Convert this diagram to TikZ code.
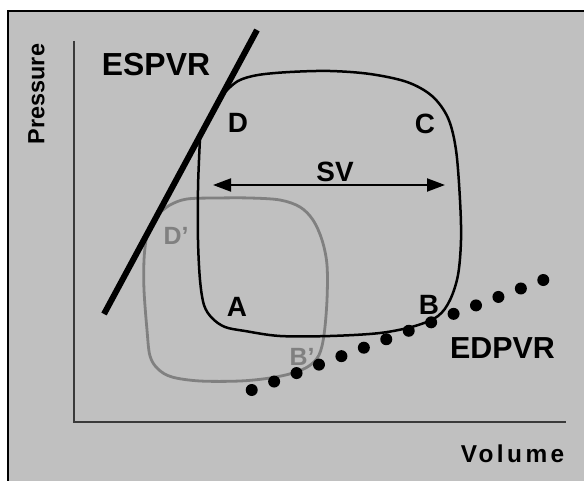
\documentclass[tikz,border=0pt]{standalone}
\usepackage{fontspec}
\setmainfont{Liberation Sans}
\usetikzlibrary{arrows.meta}
\definecolor{panel}{HTML}{C0C0C0}
\definecolor{shade}{HTML}{808080}
\definecolor{axisgray}{HTML}{3A3A3A}
\tikzset{
  lbl/.style={font=\bfseries\fontsize{28}{30}\selectfont, inner sep=0pt},
  lblgray/.style={lbl, text=shade, font=\bfseries\fontsize{25}{27}\selectfont},
  axislbl/.style={inner sep=0pt},
  loopline/.style={line width=2.5bp, line join=round},
  graylooop/.style={line width=2.8bp, draw=shade, line join=round},
  relation/.style={line width=6bp, line cap=butt},
  edpdot/.style={circle, fill=black, minimum size=12bp, inner sep=0pt},
  axisline/.style={draw=axisgray, line width=1.3bp},
}
\begin{document}
\begin{tikzpicture}[x=1bp, y=-1bp]
  \useasboundingbox (0,0) rectangle (584,481);
  % panel
  \fill[panel] (8,11) rectangle (584,481);
  \draw[line width=1.5bp] (8,481) -- (8,11) -- (584,11);

  % axes
  \coordinate (origin) at (74,422);
  \coordinate (ytop) at (74,41);
  \coordinate (xend) at (566,422);
  \draw[axisline] (ytop) -- (origin) -- (xend);

  % axis titles
  \node[axislbl, rotate=90, font=\bfseries\fontsize{23.5}{25}\selectfont] (pressure) at (36.5,94) {Pressure};
  \node[axislbl, font=\bfseries\fontsize{24.5}{26}\selectfont\addfontfeature{LetterSpace=14}] (volume) at (512.5,454) {Volume};

  % reduced loop (gray)
  \draw[graylooop] plot[smooth, tension=0.55] coordinates {
    (157,215) (170,205) (187,199) (217,198) (250,198) (280,200) (300,207)
    (313,220) (322,240) (327,265) (327,300) (324,335) (319,355) (309,366)
    (293,373) (270,378) (240,381) (200,381) (172,377) (158,369) (150,356)
    (147,330) (144,290) (144,260) (146,240) (148,232)};

  % pressure-volume loop (black)
  \draw[loopline] plot[smooth, tension=0.55] coordinates {
    (223,94) (238,81) (258,75) (290,72) (330,71) (370,74) (407,82)
    (432,96) (448,118) (456,150) (460,200) (461,240) (458,275) (450,300)
    (438,316) (415,326) (380,333) (330,336) (280,336) (245,331) (225,327)
    (212,318) (204,305) (200,280) (198,240) (198,190) (199,160) (200,138)};

  % end-diastolic relation (dots)
  \foreach \i in {0,...,13} {
    \node[edpdot] (dot\i) at ({251.7+22.43*\i},{390-8.46*\i}) {};
  }

  % end-systolic relation
  \coordinate (esA) at (104,314);
  \coordinate (esB) at (257,30);
  \draw[relation] (esA) -- (esB);

  % stroke volume arrow
  \coordinate (svL) at (213,185);
  \coordinate (svR) at (445,185);
  \draw[line width=2bp, {Triangle[length=18bp,width=13bp]}-{Triangle[length=18bp,width=13bp]}] (svL) -- (svR);

  % labels
  \node[lbl, font=\bfseries\fontsize{32}{34}\selectfont] (espvr) at (156,65) {ESPVR};
  \node[lbl, font=\bfseries\fontsize{30.5}{32}\selectfont] (edpvr) at (502.5,348) {EDPVR};
  \node[lbl] (D) at (238,123) {D};
  \node[lbl] (C) at (425,123.5) {C};
  \node[lbl] (SV) at (335,172) {SV};
  \node[lbl] (A) at (237,307) {A};
  \node[lbl] (B) at (429,305) {B};
  \node[lblgray] (Dp) at (176,236) {D’};
  \node[lblgray] (Bp) at (302,357) {B’};
\end{tikzpicture}
\end{document}
